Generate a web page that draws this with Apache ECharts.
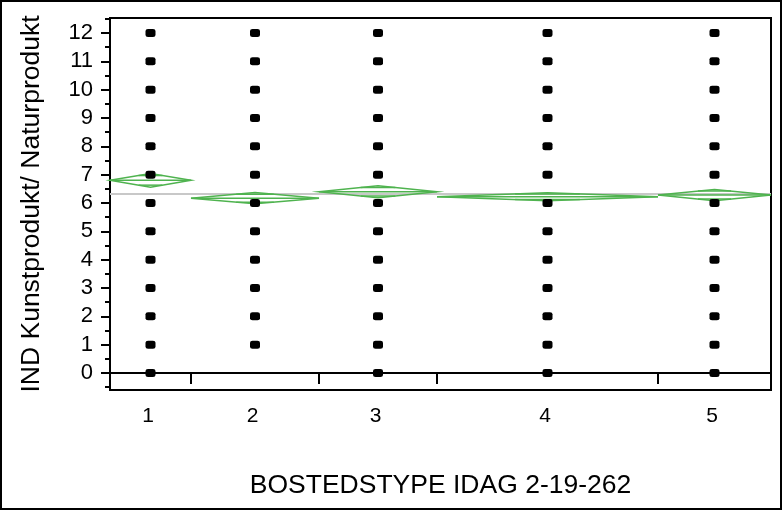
<!DOCTYPE html>
<html>
<head>
<meta charset="utf-8">
<script src="https://cdn.jsdelivr.net/npm/echarts@6/dist/echarts.min.js"></script>
<style>html,body{margin:0;padding:0;background:#fff;}#c{width:784px;height:511px;}</style>
</head>
<body>
<div id="c"></div>
<script>
// ---- data ----
const groupLabels = ['1', '2', '3', '4', '5'];
// relative group sizes (JMP draws group widths proportional to n)
const groupSizes = [81, 128, 118, 221, 113];
// observed response values per group
const groupValues = [
  [0,1,2,3,4,5,6,7,8,9,10,11,12],
  [1,2,3,4,5,6,7,8,9,10,11,12],
  [0,1,2,3,4,5,6,7,8,9,10,11,12],
  [0,1,2,3,4,5,6,7,8,9,10,11,12],
  [0,1,2,3,4,5,6,7,8,9,10,11,12]
];
const groupMeans = [6.80, 6.17, 6.40, 6.22, 6.28];
const groupCI = [0.24, 0.20, 0.21, 0.14, 0.20];
const grandMean = 6.32;
const yTicks = [0,1,2,3,4,5,6,7,8,9,10,11,12];
const yMinorTicks = [-0.5,0.5,1.5,2.5,3.5,4.5,5.5,6.5,7.5,8.5,9.5,10.5,11.5,12.5];
const yMin = -0.6, yMax = 12.53;

// ---- derived ----
const total = groupSizes.reduce((a, b) => a + b, 0);
const lefts = [], rights = [], centers = [];
let acc = 0;
groupSizes.forEach(s => { lefts.push(acc); acc += s; rights.push(acc); centers.push((lefts[lefts.length-1] + acc) / 2); });
const innerBounds = rights.slice(0, -1);

const pts = [];
groupValues.forEach((vals, g) => vals.forEach(v => pts.push([centers[g], v])));
const diamonds = groupMeans.map((m, g) => [lefts[g], rights[g], m, groupCI[g]]);

const FONT = 'Liberation Sans';
const GREEN = '#4fb34f';

const chart = echarts.init(document.getElementById('c'), null, {renderer: 'canvas'});
chart.setOption({
  animation: false,
  backgroundColor: '#fff',
  graphic: [{
    type: 'rect', shape: {x: 1, y: 1, width: 780, height: 508},
    style: {fill: 'none', stroke: '#000', lineWidth: 2}, silent: true
  }],
  grid: {left: 110, right: 13, top: 18, bottom: 121, show: true, borderColor: '#000', borderWidth: 2, backgroundColor: 'transparent'},
  xAxis: {
    type: 'value', min: 0, max: total,
    name: 'BOSTEDSTYPE IDAG 2-19-262', nameLocation: 'middle', nameGap: 82,
    nameTextStyle: {fontFamily: FONT, fontSize: 26.5, color: '#000'},
    axisLine: {show: true, lineStyle: {color: '#000', width: 2}},
    axisTick: {show: true, customValues: innerBounds, length: 11, lineStyle: {color: '#000', width: 2}},
    axisLabel: {
      show: true, customValues: centers, margin: 16,
      fontFamily: FONT, fontSize: 21, color: '#000',
      formatter: function (v) {
        let best = 0;
        centers.forEach((c, i) => { if (Math.abs(c - v) < Math.abs(centers[best] - v)) best = i; });
        return '{a|' + groupLabels[best] + '}';
      },
      rich: {a: {fontFamily: FONT, fontSize: 21, color: '#000', padding: [0, 5, 0, 0]}}
    },
    splitLine: {show: false}
  },
  yAxis: [{
    type: 'value', min: yMin, max: yMax,
    name: 'IND Kunstprodukt/ Naturprodukt', nameLocation: 'middle', nameGap: 65, nameRotate: 90,
    nameTextStyle: {fontFamily: FONT, fontSize: 26.5, color: '#000'},
    axisLine: {show: true, lineStyle: {color: '#000', width: 2}},
    axisTick: {show: true, customValues: yTicks, length: 9, lineStyle: {color: '#000', width: 2}},
    axisLabel: {
      show: true, customValues: yTicks, margin: 17, fontFamily: FONT, fontSize: 22, color: '#000',
      formatter: function (v) { return '{a|' + Math.round(v) + '}'; },
      rich: {a: {fontFamily: FONT, fontSize: 22, color: '#000'}}
    },
    splitLine: {show: false}
  }, {
    type: 'value', min: yMin, max: yMax, position: 'left', offset: 0,
    axisLine: {show: false},
    axisTick: {show: true, customValues: yMinorTicks, length: 5, lineStyle: {color: '#000', width: 2}},
    axisLabel: {show: false},
    splitLine: {show: false}
  }],
  series: [{
    type: 'line', z: 1,
    data: [[0, grandMean], [total, grandMean]],
    symbol: 'none', lineStyle: {color: '#c8c8c8', width: 2}, silent: true
  }, {
    type: 'custom', z: 2,
    data: diamonds,
    renderItem: function (params, api) {
      const l = api.value(0), r = api.value(1), m = api.value(2), d = api.value(3);
      const c = (l + r) / 2;
      const pL = api.coord([l, m]), pR = api.coord([r, m]);
      const pT = api.coord([c, m + d]), pB = api.coord([c, m - d]);
      const h = d / Math.SQRT2;
      const k = (r - l) / 2 * (1 - 1 / Math.SQRT2);
      const o1a = api.coord([c - k, m + h]), o1b = api.coord([c + k, m + h]);
      const o2a = api.coord([c - k, m - h]), o2b = api.coord([c + k, m - h]);
      const st = {stroke: GREEN, lineWidth: 1.5, fill: null};
      return {type: 'group', children: [
        {type: 'polygon', shape: {points: [pL, pT, pR, pB]}, style: st},
        {type: 'line', shape: {x1: pL[0], y1: pL[1], x2: pR[0], y2: pR[1]}, style: st},
        {type: 'line', shape: {x1: o1a[0], y1: o1a[1], x2: o1b[0], y2: o1b[1]}, style: st},
        {type: 'line', shape: {x1: o2a[0], y1: o2a[1], x2: o2b[0], y2: o2b[1]}, style: st}
      ]};
    }
  }, {
    type: 'scatter', z: 3,
    data: pts,
    symbol: 'roundRect', symbolSize: [10, 8],
    itemStyle: {color: '#000', opacity: 1}, silent: true
  }]
});
</script>
</body>
</html>
